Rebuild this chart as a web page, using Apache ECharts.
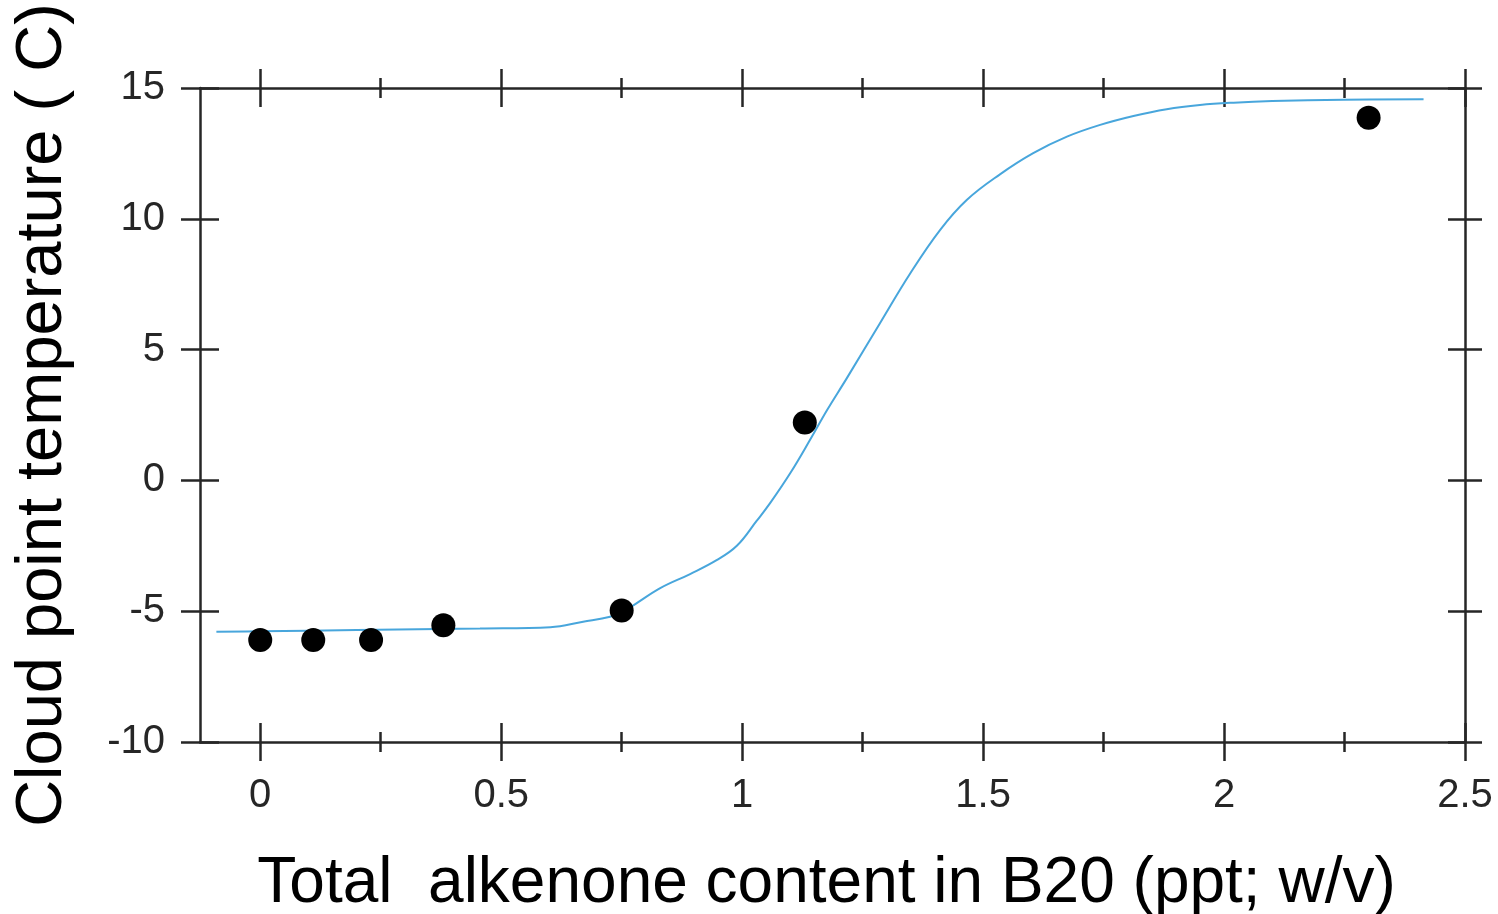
<!DOCTYPE html>
<html>
<head>
<meta charset="utf-8">
<script src="https://cdn.jsdelivr.net/npm/echarts@6/dist/echarts.min.js"></script>
<style>
  html, body { margin: 0; padding: 0; background: #fff; }
  #chart { width: 1498px; height: 914px; }
</style>
</head>
<body>
<div id="chart"></div>
<script>
// Measured cloud points
const alkenone = [0, 0.11, 0.23, 0.38, 0.75, 1.13, 2.30];
const cloudPoint = [-6.1, -6.1, -6.1, -5.54, -4.97, 2.21, 13.86];

// Fitted sigmoid curve
const fitX = [-0.091, 0, 0.2, 0.456, 0.602, 0.67, 0.726, 0.751, 0.768, 0.83, 0.892, 0.947, 0.989, 1.03, 1.058, 1.1, 1.141, 1.176, 1.217, 1.286, 1.349, 1.411, 1.466, 1.535, 1.604, 1.674, 1.743, 1.812, 1.881, 1.95, 2.02, 2.1, 2.248, 2.414];
const fitY = [-5.79, -5.77, -5.72, -5.66, -5.61, -5.4, -5.21, -5.0, -4.85, -4.12, -3.58, -3.05, -2.5, -1.55, -0.87, 0.28, 1.55, 2.68, 3.9, 6.01, 7.92, 9.58, 10.72, 11.7, 12.51, 13.14, 13.59, 13.93, 14.19, 14.35, 14.44, 14.5, 14.55, 14.57];

// Tick values
const xMajor = [0, 0.5, 1, 1.5, 2, 2.5];
const xMinor = [0.25, 0.75, 1.25, 1.75, 2.25];
const yMajor = [-10, -5, 0, 5, 10, 15];

const X_MIN = -0.125, X_MAX = 2.5, Y_MIN = -10, Y_MAX = 15;
const AXIS_COLOR = '#262626';
const FONT = '"Liberation Sans", Arial, sans-serif';

function xAxisDef(position, ticks, len, inside, withLine, withLabel) {
  return {
    type: 'value', position: position, min: X_MIN, max: X_MAX,
    axisLine: { show: withLine, onZero: false, lineStyle: { color: AXIS_COLOR, width: 2.5 } },
    axisTick: { show: true, inside: inside, length: len, customValues: ticks,
                lineStyle: { color: AXIS_COLOR, width: 2.5 } },
    axisLabel: withLabel ? {
      show: true, customValues: xMajor, margin: 34, fontSize: 40, color: '#262626', fontFamily: FONT,
      formatter: v => String(v)
    } : { show: false },
    splitLine: { show: false },
    name: withLabel ? 'Total  alkenone content in B20 (ppt; w/v)' : '',
    nameLocation: 'middle', nameGap: 110,
    nameTextStyle: { fontSize: 64, color: '#000', fontFamily: FONT, padding: [0, 12, 0, 0] }
  };
}

function yAxisDef(position, len, inside, withLine, withLabel) {
  return {
    type: 'value', position: position, min: Y_MIN, max: Y_MAX, interval: 5,
    axisLine: { show: withLine, onZero: false, lineStyle: { color: AXIS_COLOR, width: 2.5 } },
    axisTick: { show: true, inside: inside, length: len, lineStyle: { color: AXIS_COLOR, width: 2.5 } },
    axisLabel: withLabel ? {
      show: true, margin: 35, fontSize: 40, color: '#262626', fontFamily: FONT
    } : { show: false },
    splitLine: { show: false },
    name: withLabel ? 'Cloud point temperature ( C)' : '',
    nameLocation: 'middle', nameGap: 124,
    nameTextStyle: { fontSize: 65, color: '#000', fontFamily: FONT }
  };
}

const chart = echarts.init(document.getElementById('chart'), null, { renderer: 'canvas' });
chart.setOption({
  animation: false,
  backgroundColor: '#fff',
  grid: { left: 200, right: 33, top: 88, bottom: 172, containLabel: false, outerBoundsMode: 'none' },
  xAxis: [
    xAxisDef('bottom', xMajor, 19, false, true, true),
    xAxisDef('bottom', xMajor, 19, true, false, false),
    xAxisDef('bottom', xMinor, 10, false, false, false),
    xAxisDef('bottom', xMinor, 10, true, false, false),
    xAxisDef('top', xMajor, 19, false, true, false),
    xAxisDef('top', xMajor, 19, true, false, false),
    xAxisDef('top', xMinor, 10, false, false, false),
    xAxisDef('top', xMinor, 10, true, false, false)
  ],
  yAxis: [
    yAxisDef('left', 19, false, true, true),
    yAxisDef('left', 19, true, false, false),
    yAxisDef('right', 17, false, true, false),
    yAxisDef('right', 17, true, false, false)
  ],
  series: [
    {
      type: 'line', xAxisIndex: 0, yAxisIndex: 0,
      data: fitX.map((x, i) => [x, fitY[i]]),
      smooth: 0.4, showSymbol: false, symbol: 'none',
      lineStyle: { color: '#48a6dc', width: 2 },
      z: 2
    },
    {
      type: 'scatter', xAxisIndex: 0, yAxisIndex: 0,
      data: alkenone.map((x, i) => [x, cloudPoint[i]]),
      symbol: 'circle', symbolSize: 24,
      itemStyle: { color: '#000', opacity: 1 },
      z: 3
    }
  ]
});
</script>
</body>
</html>
